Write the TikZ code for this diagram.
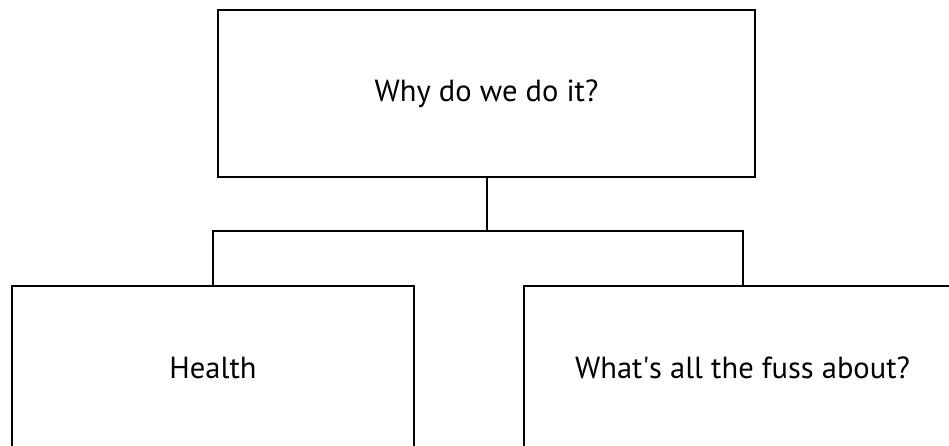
\documentclass[tikz,border=0pt]{standalone}
\usepackage{fontspec}
\setmainfont{PT Sans}
\usepackage{tikz}
\usetikzlibrary{positioning}

\begin{document}
\begin{tikzpicture}[x=1pt, y=-1pt,
		every node/.style={font=\fontsize{30.5}{36}\selectfont},
		qbox/.style={draw=black, line width=2pt, fill=white, inner sep=0pt, minimum height=164pt},
		link/.style={draw=black, line width=2pt}]
		% Page frame
		\useasboundingbox (0, 0) rectangle (949, 445);
		\clip (0, 0) rectangle (949, 445);
		
		% ===== BOXES =====
		% Top question
		\node[qbox, minimum width=537pt, minimum height=167pt] (why) at (486.5, 93.5) {Why do we do it?};
		
		% Left child
		\node[qbox, minimum width=402pt] (health) at (213, 368) {Health};
		
		% Right child (runs off the page)
		\node[qbox, minimum width=437pt] (fuss) at (742.5, 368) {What\textquotesingle s all the fuss about?};
		
		% ===== CONNECTORS =====
		\coordinate (fork) at (486.5, 231);
		\draw[link] (why.south) -- (fork);
		\draw[link] (health.north) |- (fork) -| (fuss.north);
		
	\end{tikzpicture}
\end{document}
